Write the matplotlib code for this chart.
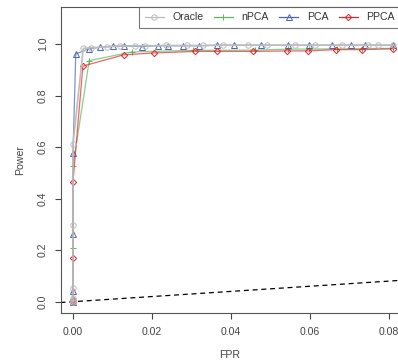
import numpy as np
import matplotlib
matplotlib.use("Agg")
import matplotlib.pyplot as plt

plt.rcParams['font.family'] = ['Liberation Sans', 'DejaVu Sans']

# ----------------------------------------------------------------------------
# data (FPR, Power) for each method
# ----------------------------------------------------------------------------
oracle_fpr = [0.0, 0.0, 0.0, 0.0, 0.0, 0.0, 0.0026, 0.0045, 0.0087, 0.0119,
              0.0157, 0.0182, 0.0235, 0.0288, 0.0330, 0.0380, 0.0444, 0.0490,
              0.0562, 0.0613, 0.0680, 0.0747, 0.0773, 0.0811]
oracle_pow = [0.0, 0.005, 0.014, 0.052, 0.298, 0.611, 0.984, 0.986, 0.990, 0.993,
              0.994, 0.994, 0.995, 0.995, 0.995, 0.996, 0.996, 0.996,
              0.996, 0.996, 0.996, 0.996, 0.996, 0.996]

npca_fpr = [0.0, 0.0, 0.0, 0.0, 0.0041, 0.0149, 0.0303, 0.0460, 0.0545,
            0.0598, 0.0668, 0.0731, 0.0811]
npca_pow = [0.0, 0.010, 0.209, 0.527, 0.936, 0.970, 0.976, 0.977, 0.981,
            0.981, 0.982, 0.983, 0.984]

pca_fpr = [0.0, 0.0, 0.0, 0.0, 0.0, 0.0007, 0.0040, 0.0068, 0.0102, 0.0129,
           0.0174, 0.0214, 0.0241, 0.0279, 0.0319, 0.0364, 0.0408, 0.0475,
           0.0545, 0.0598, 0.0655, 0.0705, 0.0739, 0.0811]
pca_pow = [0.0, 0.010, 0.043, 0.263, 0.579, 0.962, 0.982, 0.988, 0.992, 0.993,
           0.991, 0.994, 0.994, 0.994, 0.994, 0.996, 0.996, 0.996,
           0.996, 0.996, 0.996, 0.996, 0.996, 0.996]

ppca_fpr = [0.0, 0.0, 0.0, 0.0, 0.0025, 0.0129, 0.0206, 0.0309, 0.0364,
            0.0456, 0.0542, 0.0594, 0.0666, 0.0731, 0.0811]
ppca_pow = [0.0, 0.005, 0.171, 0.466, 0.915, 0.959, 0.966, 0.972, 0.972,
            0.972, 0.974, 0.974, 0.979, 0.979, 0.982]

x_ticks = [0.0, 0.02, 0.04, 0.06, 0.08]
y_ticks = [0.0, 0.2, 0.4, 0.6, 0.8, 1.0]

# ----------------------------------------------------------------------------
# figure
# ----------------------------------------------------------------------------
W, H = 398, 362
fig = plt.figure(figsize=(W / 100, H / 100), dpi=100)
ax = fig.add_axes([60.5 / W, (H - 312.7) / H, (400 - 60.5) / W, (312.7 - 7) / H])

series = [
    ("nPCA", npca_fpr, npca_pow, "#5cb85c", "+", 2),
    ("PCA", pca_fpr, pca_pow, "#4a66b0", "^", 3),
    ("PPCA", ppca_fpr, ppca_pow, "#e0262b", "D", 4),
    ("Oracle", oracle_fpr, oracle_pow, "#bdbdbd", "o", 5),
]
handles = {}
for name, xs, ys, col, mk, z in series:
    ms = 3.9 if mk != "D" else 3.2
    lw = 1.2 if name == "Oracle" else 0.9
    al = 1.0 if name == "Oracle" else 0.7
    ax.plot(xs, ys, color=col, lw=lw, alpha=al, zorder=z)
    ax.plot(xs, ys, ls="none", marker=mk, ms=ms, mfc="none", mec=col,
            mew=0.7, zorder=z + 0.5)
    h, = ax.plot([], [], color=col, lw=0.9, marker=mk, ms=ms, mfc="none",
                 mec=col, mew=0.7)
    handles[name] = h

# diagonal reference line y = x
ax.axline((0, 0), slope=1, color="black", ls=(0, (4, 3)), lw=0.9, zorder=1)

ax.set_xlim((60.5 - 73) / 3950, 327 / 3950)
ax.set_ylim((301.7 - 312.7) / 257.5, 294.7 / 257.5)

ax.set_xticks(x_ticks)
ax.set_xticklabels([f"{v:.2f}" for v in x_ticks])
ax.set_yticks(y_ticks)
ax.set_yticklabels([f"{v:.1f}" for v in y_ticks], rotation=90, va="center")
ax.tick_params(axis="both", length=4.2, width=0.8, color="#444444",
               labelsize=7.6, labelcolor="#444444")
ax.tick_params(axis="x", pad=6)
ax.tick_params(axis="y", pad=5)
for sp in ax.spines.values():
    sp.set_color("#555555")
    sp.set_linewidth(0.8)

fig.text(230 / W, 1 - 355 / H, "FPR", ha="center", va="center",
         fontsize=7.6, color="#444444")
fig.text(20 / W, 1 - 160 / H, "Power", ha="center", va="center",
         rotation=90, fontsize=7.6, color="#444444")

order = ["Oracle", "nPCA", "PCA", "PPCA"]
leg = ax.legend([handles[k] for k in order], order, loc="upper right",
                bbox_to_anchor=(1.0, 1.0), borderaxespad=0, ncol=4,
                fontsize=7.6, frameon=True, fancybox=False, handlelength=1.8,
                handletextpad=0.8, columnspacing=1.0, borderpad=0.5,
                labelcolor="#333333")
leg.get_frame().set_edgecolor("#555555")
leg.get_frame().set_linewidth(0.8)

fig.savefig("out.png", dpi=100)
